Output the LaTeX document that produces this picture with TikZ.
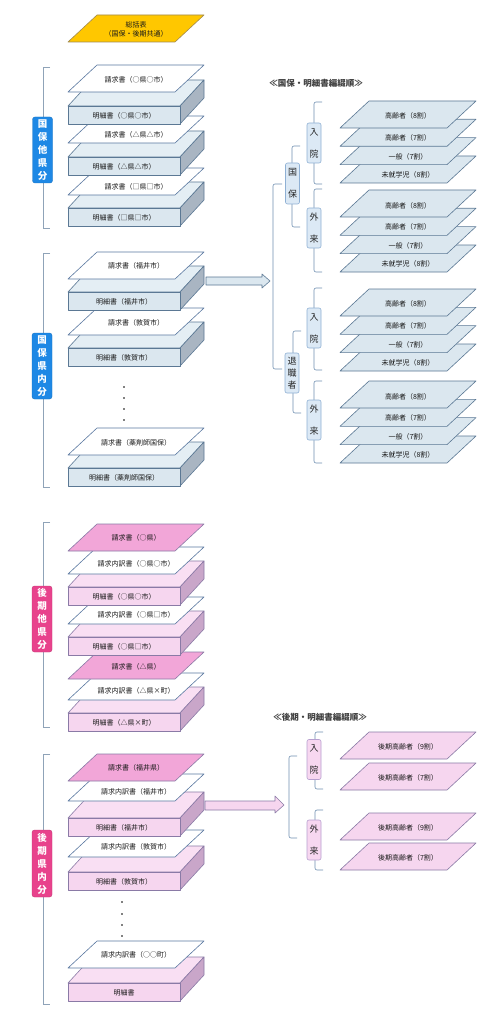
\documentclass[tikz,border=0pt]{standalone}
\usepackage{fontspec}
\setmainfont{Noto Sans CJK JP}

\definecolor{sheetline}{HTML}{5A78A0}
\definecolor{bluefront}{HTML}{DBE7EF}
\definecolor{bluetop}{HTML}{E4EEF4}
\definecolor{blueside}{HTML}{A9B5C2}
\definecolor{blueline}{HTML}{5B7894}
\definecolor{pinkfront}{HTML}{F6D6EF}
\definecolor{pinktop}{HTML}{F9DFF3}
\definecolor{pinkside}{HTML}{C9A6C9}
\definecolor{pinkline}{HTML}{8A7AA6}
\definecolor{pinkdeep}{HTML}{F2A6D8}
\definecolor{sumyellow}{HTML}{FFC700}
\definecolor{sumline}{HTML}{A08A50}
\definecolor{labelblue}{HTML}{1E88E5}
\definecolor{labelpink}{HTML}{E8428C}
\definecolor{kindblue}{HTML}{DCE9F5}
\definecolor{kindblueline}{HTML}{8FB0D4}
\definecolor{kindpink}{HTML}{F7D7F0}
\definecolor{kindpinkline}{HTML}{B7A0D0}
\definecolor{bracketgray}{HTML}{8FA3B8}
\definecolor{bracketblue}{HTML}{6F8FB0}

\begin{document}
\begin{tikzpicture}[x=1pt,y=-1pt]
\tikzset{
  sheettext/.style={font=\fontsize{7}{9}\selectfont,align=center,inner sep=0pt,text=black!90},
  whitesheet/.style={fill=white,draw=sheetline,line width=0.6pt,line join=round},
  pinksheet/.style={fill=pinkdeep,draw=pinkline,line width=0.6pt,line join=round},
  sumsheet/.style={fill=sumyellow,draw=sumline,line width=0.6pt,line join=round},
  bluesheet/.style={fill=bluefront,draw=blueline,line width=0.6pt,line join=round},
  lilacsheet/.style={fill=pinkfront,draw=pinkline,line width=0.6pt,line join=round},
  bluebox/.style={draw=blueline,line width=0.6pt,line join=round},
  pinkbox/.style={draw=pinkline,line width=0.6pt,line join=round},
  bluelabel/.style={rectangle,rounded corners=2.5pt,fill=labelblue,draw=labelblue!85!black,line width=0.4pt,
    minimum width=20pt,minimum height=66pt,inner sep=0pt,text=white,align=center,
    font=\fontsize{9.5}{13}\selectfont\bfseries},
  pinklabel/.style={bluelabel,fill=labelpink,draw=labelpink!85!black},
  kindlabel/.style={rectangle,rounded corners=2pt,fill=kindblue,draw=kindblueline,line width=0.6pt,
    minimum width=14pt,minimum height=40pt,inner sep=0pt,align=center,text=black!85,
    font=\fontsize{9}{22}\selectfont},
  kindlabelpink/.style={kindlabel,fill=kindpink,draw=kindpinkline},
  leftbracket/.style={draw=bracketgray,line width=0.6pt},
  rightbracket/.style={draw=bracketblue,line width=0.6pt,rounded corners=2pt},
  ordertitle/.style={font=\fontsize{8.5}{10}\selectfont\bfseries,text=black!75,inner sep=0pt},
  dotfill/.style={fill=black},
  pics/sheet/.style args={#1/#2/#3}{code={
    \path[#1] (29,0) -- (136,0) -- (107,27) -- (0,27) -- cycle;
    \node[sheettext] (-t) at (68,#2) {#3};
  }},
  pics/docbox/.style args={#1/#2}{code={
    \path[#1box,fill=#1top] (0,0) -- (24,-26) -- (136,-26) -- (112,0) -- cycle;
    \path[#1box,fill=#1side] (112,0) -- (136,-26) -- (136,-8) -- (112,18) -- cycle;
    \path[#1box,fill=#1front] (0,0) rectangle (112,18);
    \node[sheettext] (-t) at (56,10) {#2};
  }}
}
\fill[white] (0,0) rectangle (497,1024);
\useasboundingbox (0,0) rectangle (497,1024);

% summary sheet
\pic (sum) at (68,15) {sheet=sumsheet/14/総括表\\（国保・後期共通）};

% kokuho, other prefectures
\draw[leftbracket] (50,67) -- (43,67) -- (43,228) -- (50,228);
\node[bluelabel] (l_kt) at (42.5,150) {国\\保\\他\\県\\分};
\pic (kt6) at (68,208) {docbox=blue/明細書（□県□市）};
\pic (kt5) at (68,168) {sheet=whitesheet/19/請求書（□県□市）};
\pic (kt4) at (68,157) {docbox=blue/明細書（△県△市）};
\pic (kt3) at (68,116) {sheet=whitesheet/19/請求書（△県△市）};
\pic (kt2) at (68,106) {docbox=blue/明細書（○県○市）};
\pic (kt1) at (68,65) {sheet=whitesheet/15/請求書（○県○市）};

% kokuho, within prefecture
\draw[leftbracket] (50,253) -- (43,253) -- (43,487) -- (50,487);
\node[bluelabel] (l_kn) at (42,366) {国\\保\\県\\内\\分};
\pic (kn6) at (68,468) {docbox=blue/明細書（薬剤師国保）};
\pic (kn5) at (68,428) {sheet=whitesheet/15/請求書（薬剤師国保）};
\foreach \y in {387,398,409,420}
  \fill[dotfill] (124,\y) circle (0.9pt);
\pic (kn4) at (68,348) {docbox=blue/明細書（敦賀市）};
\pic (kn3) at (68,308) {sheet=whitesheet/15/請求書（敦賀市）};
\pic (kn2) at (68,292) {docbox=blue/明細書（福井市）};
\pic (kn1) at (68,252) {sheet=whitesheet/14/請求書（福井市）};

% kokuho arrow
\path[bluebox,fill=bluefront] (206,277) -- (262,277) -- (262,274) -- (270,281)
  -- (262,288) -- (262,285) -- (206,285) -- cycle;

% kokuho order
\node[ordertitle] (t_k) at (316,83) {≪国保・明細書編綴順≫};
\draw[rightbracket] (282,184) -- (273,184) -- (273,369) -- (282,369);
\draw[rightbracket] (300,146) -- (292,146) -- (292,227) -- (300,227);
\draw[rightbracket] (322,102) -- (314,102) -- (314,184) -- (322,184);
\draw[rightbracket] (322,189) -- (314,189) -- (314,272) -- (322,272);
\draw[rightbracket] (301,331) -- (293,331) -- (293,413) -- (301,413);
\draw[rightbracket] (322,288) -- (314,288) -- (314,370) -- (322,370);
\draw[rightbracket] (322,381) -- (314,381) -- (314,463) -- (322,463);
\node[kindlabel,minimum height=41pt] (l_kokuho) at (292.5,183.5) {国\\保};
\node[kindlabel] (l_kin) at (314,143) {入\\院};
\node[kindlabel] (l_kout) at (314,228) {外\\来};
\node[kindlabel,font=\fontsize{9}{12}\selectfont] (l_tai) at (292,373) {退\\職\\者};
\node[kindlabel] (l_tin) at (314,328) {入\\院};
\node[kindlabel] (l_tout) at (314,420) {外\\来};

\pic (ki4) at (340,156) {sheet=bluesheet/19/未就学児（8割）};
\pic (ki3) at (340,137.6) {sheet=bluesheet/19/一般（7割）};
\pic (ki2) at (340,119.3) {sheet=bluesheet/19/高齢者（7割）};
\pic (ki1) at (340,101) {sheet=bluesheet/15/高齢者（8割）};
\pic (ko4) at (340,245) {sheet=bluesheet/19/未就学児（8割）};
\pic (ko3) at (340,226.6) {sheet=bluesheet/19/一般（7割）};
\pic (ko2) at (340,208.3) {sheet=bluesheet/19/高齢者（7割）};
\pic (ko1) at (340,190) {sheet=bluesheet/16/高齢者（8割）};
\pic (ti4) at (340,344) {sheet=bluesheet/19/未就学児（8割）};
\pic (ti3) at (340,325.6) {sheet=bluesheet/19/一般（7割）};
\pic (ti2) at (340,307.3) {sheet=bluesheet/19/高齢者（7割）};
\pic (ti1) at (340,289) {sheet=bluesheet/15/高齢者（8割）};
\pic (to4) at (340,436) {sheet=bluesheet/19/未就学児（8割）};
\pic (to3) at (340,417.6) {sheet=bluesheet/19/一般（7割）};
\pic (to2) at (340,399.3) {sheet=bluesheet/19/高齢者（7割）};
\pic (to1) at (340,381) {sheet=bluesheet/16/高齢者（8割）};

% kouki, other prefectures
\draw[leftbracket] (50,522) -- (43,522) -- (43,727) -- (50,727);
\node[pinklabel] (l_gt) at (42,619) {後\\期\\他\\県\\分};
\pic (gt8) at (68,713) {docbox=pink/明細書（△県×町）};
\pic (gt7) at (68,673) {sheet=whitesheet/18/請求内訳書（△県×町）};
\pic (gt6) at (68,652) {sheet=pinksheet/15/請求書（△県）};
\pic (gt5) at (68,637) {docbox=pink/明細書（○県□市）};
\pic (gt4) at (68,597) {sheet=whitesheet/18/請求内訳書（○県□市）};
\pic (gt3) at (68,587) {docbox=pink/明細書（○県○市）};
\pic (gt2) at (68,547) {sheet=whitesheet/17/請求内訳書（○県○市）};
\pic (gt1) at (68,524) {sheet=pinksheet/14/請求書（○県）};

% kouki, within prefecture
\draw[leftbracket] (50,754) -- (43,754) -- (43,1004) -- (50,1004);
\node[pinklabel,minimum height=67pt] (l_gn) at (42,863.5) {後\\期\\県\\内\\分};
\pic (gn7) at (68,983) {docbox=pink/明細書};
\pic (gn6) at (68,941) {sheet=whitesheet/14/請求内訳書（○○町）};
\foreach \y in {902,914,925,936}
  \fill[dotfill] (122,\y) circle (0.9pt);
\pic (gn5) at (68,872) {docbox=pink/明細書（敦賀市）};
\pic (gn4) at (68,830) {sheet=whitesheet/17/請求内訳書（敦賀市）};
\pic (gn3) at (68,818) {docbox=pink/明細書（福井市）};
\pic (gn2) at (68,774) {sheet=whitesheet/18/請求内訳書（福井市）};
\pic (gn1) at (68,754) {sheet=pinksheet/14/請求書（福井県）};

% kouki arrow
\path[pinkbox,fill=pinkfront] (205,801) -- (275,801) -- (275,796) -- (284,805)
  -- (275,813) -- (275,810) -- (205,810) -- cycle;

% kouki order
\node[ordertitle] (t_g) at (320,717) {≪後期・明細書編綴順≫};
\draw[rightbracket] (297,756) -- (289,756) -- (289,838) -- (297,838);
\draw[rightbracket] (323,732) -- (315,732) -- (315,789) -- (323,789);
\draw[rightbracket] (323,810) -- (315,810) -- (315,870) -- (323,870);
\node[kindlabelpink] (l_gin) at (314,759.5) {入\\院};
\node[kindlabelpink] (l_gout) at (314,840) {外\\来};
\pic (gi1) at (340,732) {sheet=lilacsheet/15/後期高齢者（9割）};
\pic (gi2) at (340,763) {sheet=lilacsheet/15/後期高齢者（7割）};
\pic (go1) at (340,813) {sheet=lilacsheet/15/後期高齢者（9割）};
\pic (go2) at (340,843) {sheet=lilacsheet/15/後期高齢者（7割）};
\end{tikzpicture}
\end{document}
